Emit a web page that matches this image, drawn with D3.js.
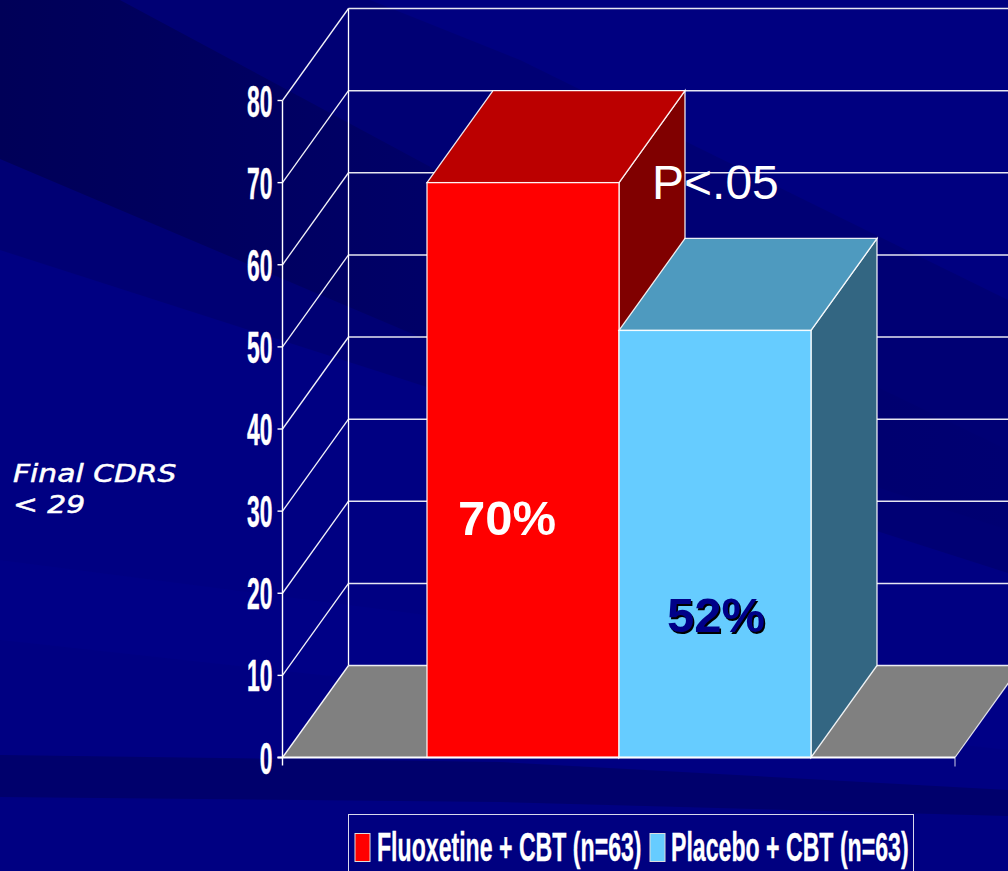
<!DOCTYPE html>
<html>
<head>
<meta charset="utf-8">
<script src="https://cdnjs.cloudflare.com/ajax/libs/d3/7.8.5/d3.min.js"></script>
<style>
html,body{margin:0;padding:0;background:#000080;overflow:hidden}
svg{display:block}
</style>
</head>
<body>
<svg id="chart" width="1008" height="871" font-family="'Liberation Sans',Arial,sans-serif"></svg>
<script>
// Remission rates by treatment arm
const categories = ["Fluoxetine + CBT (n=63)", "Placebo + CBT (n=63)"];
const values = [70, 52];
const valueLabels = ["70%", "52%"];
const yTicks = [0, 10, 20, 30, 40, 50, 60, 70, 80];
const faceColors = ["#ff0000", "#66ccff"];
const topColors = ["#bb0000", "#4e9abf"];
const sideColors = ["#800000", "#336682"];
const labelColors = ["#ffffff", "#000088"];

// Slide backdrop: flat low-contrast sweeps painted back to front
const sweeps = [
  { pts: [[0, 0], [1008, 0], [1008, 573], [427, 387], [0, 250]], fill: "#000074" },
  { pts: [[0, 0], [120, 0], [520, 215], [1008, 450], [1008, 530], [427, 340], [0, 159]], fill: "url(#core)" },
  { pts: [[370, 0], [1008, 0], [1008, 300], [520, 60]], fill: "#000080" },
  { pts: [[0, 560], [1008, 690], [1008, 750], [0, 640]], fill: "#000086" },
  { pts: [[0, 755], [500, 762], [1008, 790], [1008, 816], [500, 802], [0, 797]], fill: "#00006c" }
];

const svg = d3.select("#chart");
const defs = svg.append("defs");
const core = defs.append("linearGradient").attr("id", "core")
  .attr("x1", 0).attr("y1", 0).attr("x2", 1).attr("y2", 0);
core.append("stop").attr("offset", "0").attr("stop-color", "#000058");
core.append("stop").attr("offset", "0.5").attr("stop-color", "#00006a");
core.append("stop").attr("offset", "1").attr("stop-color", "#000072");

svg.append("rect").attr("width", 1008).attr("height", 871).attr("fill", "#000082");
svg.selectAll("path.sweep").data(sweeps).join("path").attr("class", "sweep")
  .attr("d", s => d3.line()(s.pts) + "Z").attr("fill", s => s.fill);

// Oblique projection: depth shifts a point right and up
const y = d3.scaleLinear().domain([0, 80]).range([757.5, 100.5]);
const depth = { dx: 66, dy: -92 };
const x0 = 282.5, xEnd = 955;
const band = d3.scaleBand().domain(categories).range([427, 811]);

const line = "#ffffff";
const g = svg.append("g");

// Floor
const floorPts = [[x0, y(0)], [x0 + depth.dx, y(0) + depth.dy], [xEnd + depth.dx, y(0) + depth.dy], [xEnd, y(0)]];
g.append("path").attr("d", d3.line()(floorPts) + "Z").attr("fill", "#808080");

// Back wall gridlines and the diagonals on the side wall
const grid = g.append("g");
grid.selectAll("line.back").data(yTicks).join("line").attr("class", "back")
  .attr("x1", x0 + depth.dx).attr("x2", 1008)
  .attr("y1", d => y(d) + depth.dy).attr("y2", d => y(d) + depth.dy)
  .attr("stroke", line).attr("stroke-opacity", 0.9).attr("stroke-width", 1.5);
grid.selectAll("line.diag").data(yTicks).join("line").attr("class", "diag")
  .attr("x1", x0).attr("x2", x0 + depth.dx)
  .attr("y1", d => y(d)).attr("y2", d => y(d) + depth.dy)
  .attr("stroke", line).attr("stroke-width", 1.3).attr("stroke-opacity", 0.95);
grid.append("line").attr("x1", x0 + depth.dx).attr("x2", x0 + depth.dx)
  .attr("y1", y(80) + depth.dy).attr("y2", y(0) + depth.dy)
  .attr("stroke", line).attr("stroke-width", 1.3);

// Right floor edge runs out of the frame
g.append("line").attr("x1", xEnd).attr("y1", y(0)).attr("x2", xEnd + depth.dx).attr("y2", y(0) + depth.dy)
  .attr("stroke", line).attr("stroke-opacity", 0.85).attr("stroke-width", 1.2);

// Bars: side, top, then front face
const bars = g.selectAll("g.bar").data(categories).join("g").attr("class", "bar");
function applyEdge(sel) {
  return sel.attr("stroke", "#ffffff").attr("stroke-opacity", 0.9)
    .attr("stroke-width", 1.3).attr("stroke-linejoin", "miter");
}
bars.each(function (c, i) {
  const b = d3.select(this);
  const xl = band(c), xr = xl + band.bandwidth(), yt = y(values[i]), yb = y(0);
  const d = depth;
  applyEdge(b.append("path").attr("fill", sideColors[i])
    .attr("d", d3.line()([[xr, yt], [xr + d.dx, yt + d.dy], [xr + d.dx, yb + d.dy], [xr, yb]]) + "Z"));
  applyEdge(b.append("path").attr("fill", topColors[i])
    .attr("d", d3.line()([[xl, yt], [xl + d.dx, yt + d.dy], [xr + d.dx, yt + d.dy], [xr, yt]]) + "Z"));
  applyEdge(b.append("rect").attr("fill", faceColors[i])
    .attr("x", xl).attr("y", yt).attr("width", band.bandwidth()).attr("height", yb - yt));
});

// Value axis with outward ticks
const axis = g.append("g");
axis.append("line").attr("x1", x0).attr("x2", x0).attr("y1", y(80)).attr("y2", y(0) + 8)
  .attr("stroke", line).attr("stroke-width", 1.4);
axis.selectAll("line.tick").data(yTicks).join("line").attr("class", "tick")
  .attr("x1", x0 - 5).attr("x2", x0).attr("y1", d => y(d)).attr("y2", d => y(d))
  .attr("stroke", line).attr("stroke-width", 1.4);
axis.selectAll("text").data(yTicks).join("text")
  .attr("text-anchor", "end")
  .attr("transform", d => `translate(272.5,${y(d) + 16}) scale(0.52,1)`)
  .attr("font-size", 44).attr("font-weight", "bold").attr("fill", "#fff")
  .attr("stroke", "#fff").attr("stroke-width", 0.4)
  .text(d => d);

// Baseline and its end tick
axis.append("line").attr("x1", x0 - 5).attr("x2", xEnd).attr("y1", y(0)).attr("y2", y(0))
  .attr("stroke", line).attr("stroke-width", 1.8);
axis.append("line").attr("x1", xEnd).attr("x2", xEnd).attr("y1", y(0)).attr("y2", y(0) + 9)
  .attr("stroke", line).attr("stroke-opacity", 0.8);

// Values on the bar faces
const labelX = [507, 716];
const labelY = [535, 632];
svg.append("text").attr("x", labelX[1] + 1.5).attr("y", labelY[1] + 1.5).attr("text-anchor", "middle")
  .attr("font-size", 49).attr("font-weight", "bold").attr("fill", "#000").text(valueLabels[1]);
svg.selectAll("text.val").data(valueLabels).join("text").attr("class", "val")
  .attr("x", (d, i) => labelX[i]).attr("y", (d, i) => labelY[i]).attr("text-anchor", "middle")
  .attr("font-size", 49).attr("font-weight", "bold").attr("fill", (d, i) => labelColors[i]).text(d => d);

// Significance note
svg.append("text").attr("x", 652).attr("y", 199).attr("font-size", 48).attr("fill", "#fff").text("P<.05");

// Axis caption
const captionLines = ["Final CDRS", "< 29"];
const captionY = [482, 513];
svg.selectAll("text.caption").data(captionLines).join("text").attr("class", "caption")
  .attr("transform", (d, i) => `translate(13,${captionY[i]}) scale(1.19,1)`)
  .attr("font-family", "'DejaVu Sans',sans-serif").attr("font-style", "italic")
  .attr("font-size", 25).attr("fill", "#fff").attr("stroke", "#fff").attr("stroke-width", 0.5)
  .text(d => d);

// Legend
const legend = svg.append("g");
legend.append("rect").attr("x", 348.5).attr("y", 814.5).attr("width", 565).attr("height", 70)
  .attr("fill", "#000080").attr("stroke", "#fff").attr("stroke-opacity", 0.85);
const legendSwatch = [355, 650];
const legendText = [377, 671];
legend.selectAll("rect.sw").data(categories).join("rect").attr("class", "sw")
  .attr("x", (d, i) => legendSwatch[i]).attr("y", 833.5).attr("width", 15).attr("height", 28)
  .attr("fill", (d, i) => faceColors[i]).attr("stroke", "#ddd").attr("stroke-width", 1);
legend.selectAll("text").data(categories).join("text")
  .attr("transform", (d, i) => `translate(${legendText[i]},861) scale(0.578,1)`)
  .attr("font-size", 40).attr("font-weight", "bold").attr("fill", "#fff")
  .attr("stroke", "#fff").attr("stroke-width", 0.3).text(d => d);
</script>
</body>
</html>
